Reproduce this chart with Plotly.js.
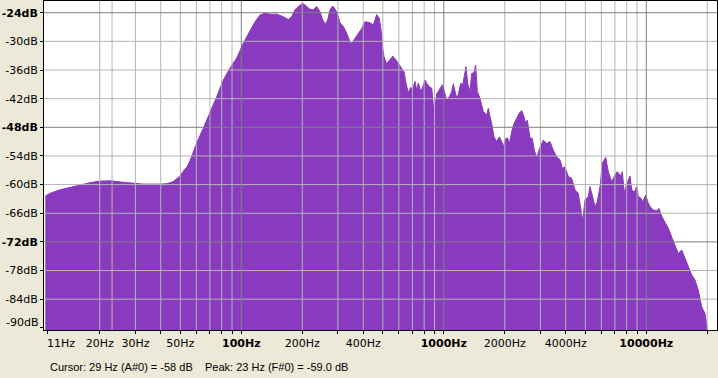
<!DOCTYPE html>
<html>
<head>
<meta charset="utf-8">
<script src="https://cdn.plot.ly/plotly-3.0.1.min.js"></script>
<style>
  html, body { margin: 0; padding: 0; background: #ECE9D8; }
  #chart { width: 718px; height: 378px; }
</style>
</head>
<body>
<div id="chart"></div>
<script>
// Spectrum values (frequency in Hz, level in dB)
const freqHz = [
  10.77, 11.4, 12.7, 14.8, 16.3, 17.9, 19.6, 22.5, 26, 29.2,
  32.7, 39.7, 43, 46, 49.8, 51.7, 53.9, 55.8, 60.2, 64.9,
  70, 75.6, 81.5, 87.9, 94.9, 102.3, 110.4, 116.9, 123.7, 130.9,
  138.6, 149.5, 158.3, 164.4, 170.7, 177.4, 184.2, 191.2, 201.1, 210.4,
  218.4, 226.8, 235.7, 244.7, 252.4, 259.9, 267.1, 274.2, 282.8, 291.2,
  299.2, 307.2, 318.9, 331.5, 344.2, 350.9, 360.2, 371.5, 393.2, 408.2,
  432.1, 448.7, 457.4, 466.3, 480.3, 489.7, 499.3, 506.7, 522.4, 542.4,
  559.4, 580.8, 603, 619.7, 636.2, 650.8, 668, 686.5, 699.1, 720.9,
  735, 748.5, 769.2, 786.9, 807.8, 823.5, 848.2, 871.6, 887.6, 905,
  922.6, 939.5, 965.4, 983.1, 1002, 1033, 1065, 1094, 1114, 1136,
  1158, 1179, 1212, 1240, 1263, 1287, 1312, 1347, 1373, 1409,
  1437, 1464, 1509, 1539, 1567, 1629, 1659, 1691, 1724, 1770,
  1825, 1880, 1932, 1968, 2022, 2069, 2107, 2165, 2222, 2291,
  2352, 2425, 2490, 2538, 2585, 2666, 2735, 2799, 2876, 2970,
  3100, 3223, 3346, 3473, 3610, 3748, 3848, 3968, 4120, 4282,
  4445, 4615, 4705, 4852, 4981, 5172, 5272, 5438, 5583, 5728,
  5910, 6066, 6303, 6492, 6748, 7005, 7191, 7475, 7612, 7787,
  8002, 8308, 8471, 8724, 8966, 9131, 9383, 9599, 9931, 10230,
  10430, 10830, 11260, 11550, 11910, 12370, 12840, 13350, 13860, 14390,
  14960, 15530, 16130, 16760, 17400, 18060, 18770, 19490, 19870, 20100
];
const levelDb = [
  -62.4, -61.8, -61.1, -60.4, -59.9, -59.6, -59.3, -59.2, -59.5, -59.7,
  -59.9, -59.9, -59.8, -59.4, -58.2, -57.2, -56.3, -55.0, -51.3, -48.2,
  -45.1, -41.6, -38.1, -35.6, -33.5, -30.4, -27.8, -25.9, -24.5, -24.1,
  -24.3, -24.3, -24.7, -25.0, -25.4, -24.8, -23.4, -22.7, -22.0, -22.7,
  -23.3, -23.4, -22.7, -23.8, -25.5, -26.4, -25.5, -23.4, -22.6, -23.3,
  -24.5, -26.1, -26.9, -28.3, -30.1, -30.4, -29.7, -28.7, -27.3, -25.9,
  -26.1, -26.6, -25.5, -24.4, -25.2, -27.6, -31.5, -33.2, -34.7, -33.9,
  -33.1, -33.9, -35.0, -35.6, -36.4, -38.8, -40.8, -39.6, -40.2, -38.4,
  -40.3, -38.7, -40.5, -39.6, -38.1, -38.8, -39.5, -39.8, -43.3, -43.7,
  -40.9, -40.5, -39.8, -39.1, -40.2, -42.3, -41.6, -40.5, -38.9, -40.2,
  -41.9, -41.1, -38.8, -39.1, -36.7, -35.3, -38.8, -40.5, -36.7, -36.6,
  -35.0, -40.5, -41.9, -43.3, -44.7, -45.4, -44.0, -45.8, -47.2, -50.0,
  -51.0, -50.0, -51.0, -52.1, -50.3, -50.3, -51.5, -48.9, -47.2, -46.1,
  -45.1, -44.5, -45.8, -47.2, -46.5, -50.3, -50.3, -52.8, -54.3, -52.5,
  -50.7, -51.4, -51.0, -52.8, -54.2, -54.8, -56.6, -56.3, -58.3, -58.7,
  -61.1, -61.8, -63.9, -67.6, -63.2, -62.5, -60.4, -62.5, -64.6, -63.6,
  -60.4, -55.5, -54.3, -57.3, -59.4, -58.0, -57.3, -58.2, -57.3, -61.8,
  -59.9, -58.2, -61.1, -61.6, -60.4, -62.5, -62.8, -63.6, -62.2, -63.9,
  -64.6, -65.3, -65.5, -65.0, -66.6, -67.9, -69.1, -71.0, -72.9, -74.4,
  -73.7, -75.4, -76.8, -78.9, -80.0, -82.1, -85.6, -87.0, -89.4, -90.6
];

// Axis ticks
const xTickVals = [11, 20, 30, 40, 50, 60, 70, 80, 90, 100,
  200, 300, 400, 500, 600, 700, 800, 900, 1000,
  2000, 3000, 4000, 5000, 6000, 7000, 8000, 9000, 10000, 20000];
const xTickText = ['', '20Hz', '30Hz', '', '50Hz', '', '', '', '', '<b>100Hz</b>',
  '200Hz', '', '400Hz', '', '', '', '', '', '<b>1000Hz</b>',
  '2000Hz', '', '4000Hz', '', '', '', '', '', '<b>10000Hz</b>', ''];
const yTickVals = [-24, -30, -36, -42, -48, -54, -60, -66, -72, -78, -84, -90];
const yTickText = ['<b>-24dB</b>', '-30dB', '-36dB', '-42dB', '<b>-48dB</b>', '-54dB',
  '-60dB', '-66dB', '<b>-72dB</b>', '-78dB', '-84dB', ''];
const bottomYLabel = '-90dB';
const firstXLabel = '11Hz';

// Grid lines (drawn above the fill, as in the reference)
const gridLightX = [20, 30, 40, 50, 60, 70, 80, 90, 200, 300, 400, 500, 600, 700, 800, 900,
  2000, 3000, 4000, 5000, 6000, 7000, 8000, 9000, 20000];
const gridDarkX = [100, 1000, 10000];
const peakMarkerHz = [23];
const gridLightY = [-30, -36, -42, -54, -60, -66, -78, -84];
const gridDarkY = [-24, -48, -72];

const statusText = 'Cursor: 29 Hz (A#0) = -58 dB\u00a0\u00a0\u00a0\u00a0Peak: 23 Hz (F#0) = -59.0 dB';

const purple = 'rgb(137,58,190)';

function vLines(list) {
  const xs = [], ys = [];
  list.forEach(f => { xs.push(f, f, null); ys.push(-120, 0, null); });
  return {x: xs, y: ys};
}
function hLines(list) {
  const xs = [], ys = [];
  list.forEach(v => { xs.push(5, 40000, null); ys.push(v, v, null); });
  return {x: xs, y: ys};
}
function lineTrace(d, color) {
  return {x: d.x, y: d.y, mode: 'lines', type: 'scatter', hoverinfo: 'skip',
    line: {color: color, width: 1}, showlegend: false, connectgaps: false};
}

const lo = Math.min(...levelDb) - 40;
const traces = [
  {x: [freqHz[0], freqHz[freqHz.length - 1]], y: [lo, lo], mode: 'lines', type: 'scatter',
    line: {width: 0}, hoverinfo: 'skip', showlegend: false},
  {x: freqHz, y: levelDb, mode: 'lines', type: 'scatter', fill: 'tonexty',
    fillcolor: purple, line: {color: purple, width: 1}, hoverinfo: 'skip', showlegend: false},
  lineTrace(vLines(gridLightX), '#b4b4b4'),
  lineTrace(vLines(peakMarkerHz), '#b4b4b4'),
  lineTrace(hLines(gridLightY), '#b4b4b4'),
  lineTrace(vLines(gridDarkX), '#808080'),
  lineTrace(hLines(gridDarkY), '#808080')
];

const tickFont = {family: 'DejaVu Sans', size: 11, color: '#000'};
const layout = {
  width: 718, height: 378,
  margin: {l: 44, r: 1, t: 1, b: 48, pad: 0},
  paper_bgcolor: '#ECE9D8',
  plot_bgcolor: '#ffffff',
  showlegend: false,
  xaxis: {
    type: 'log', range: [1.0257, 4.3491], autorange: false, fixedrange: true,
    showgrid: false, zeroline: false,
    showline: true, linecolor: '#000', linewidth: 1, mirror: true,
    ticks: 'outside', ticklen: 3, tickcolor: '#000', tickwidth: 1,
    tickmode: 'array', tickvals: xTickVals, ticktext: xTickText,
    tickfont: tickFont
  },
  yaxis: {
    range: [-90.45, -21.55], autorange: false, fixedrange: true,
    showgrid: false, zeroline: false,
    showline: true, linecolor: '#000', linewidth: 1, mirror: true,
    ticks: 'outside', ticklen: 3, tickcolor: '#000', tickwidth: 1,
    tickmode: 'array', tickvals: yTickVals, ticktext: yTickText,
    tickfont: tickFont
  },
  annotations: [
    {xref: 'paper', yref: 'paper', x: 0.0015, y: 0, xanchor: 'left', yanchor: 'top',
      yshift: -5, showarrow: false, text: firstXLabel, font: tickFont},
    {xref: 'paper', yref: 'y', x: 0, y: -88.8, xanchor: 'right', yanchor: 'middle',
      xshift: -3, showarrow: false, text: bottomYLabel, font: tickFont},
    {xref: 'paper', yref: 'paper', x: 0.006, y: 0, xanchor: 'left', yanchor: 'top',
      yshift: -29, showarrow: false, text: statusText,
      font: {family: 'Liberation Sans', size: 11, color: '#000'}}
  ]
};

Plotly.newPlot('chart', traces, layout, {displayModeBar: false, staticPlot: true});
</script>
</body>
</html>
